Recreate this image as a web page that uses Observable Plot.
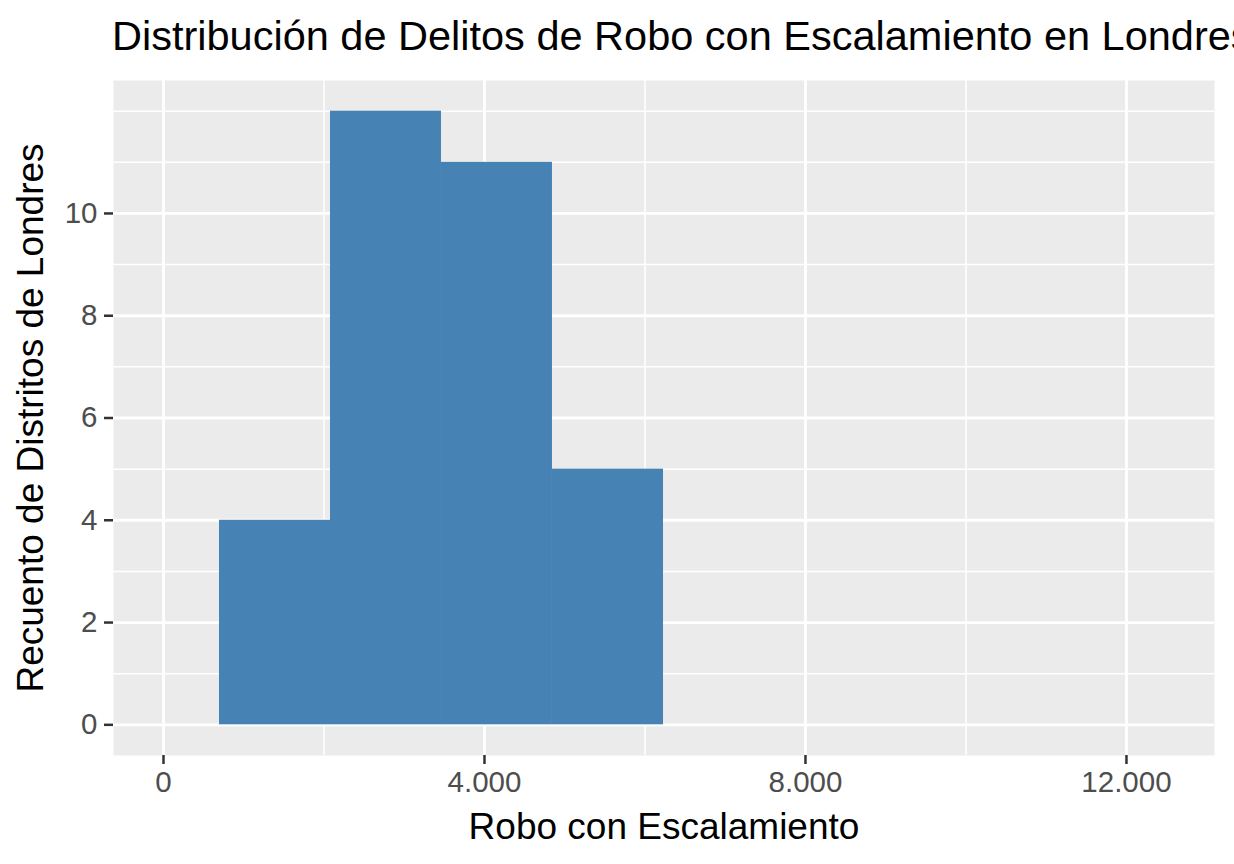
<!DOCTYPE html>
<html>
<head>
<meta charset="utf-8">
<script src="https://cdn.jsdelivr.net/npm/d3@7"></script>
<script src="https://cdn.jsdelivr.net/npm/@observablehq/plot@0.6"></script>
<style>
  html, body { margin: 0; padding: 0; background: #ffffff; }
  body { width: 1234px; height: 864px; overflow: hidden; font-family: "Liberation Sans", Arial, sans-serif; }
  #title { box-sizing: border-box; height: 72px; padding-top: 15px; padding-left: 112px; font-size: 41.5px; line-height: 41.5px; color: #000; white-space: nowrap; overflow: hidden; }
  #chart svg { display: block; }
</style>
</head>
<body>
<div id="title">Distribución de Delitos de Robo con Escalamiento en Londres</div>
<div id="chart"></div>
<script>
// ---- data ----
const binStart = [698, 2081, 3464, 4847];
const binEnd   = [2081, 3464, 4847, 6231];
const counts   = [4, 12, 11, 5];

const xTicks = [0, 4000, 8000, 12000];
const xMinor = [2000, 6000, 10000];
const yTicks = [0, 2, 4, 6, 8, 10];
const yMinor = [1, 3, 5, 7, 9, 11, 12];

const xLabel = "Robo con Escalamiento";
const yLabel = "Recuento de Distritos de Londres";

const bins = counts.map((c, i) => ({x1: binStart[i], x2: binEnd[i], count: c}));

const locale = d3.formatLocale({decimal: ",", thousands: ".", grouping: [3], currency: ["", "€"]});
const fmt = locale.format(",");

const chart = Plot.plot({
  width: 1234,
  height: 792,
  marginTop: 8,
  marginBottom: 109,
  marginLeft: 113,
  marginRight: 20,
  style: {fontFamily: "'Liberation Sans', Arial, sans-serif", background: "#ffffff"},
  x: {domain: [-623, 13097]},
  y: {domain: [-0.6, 12.6]},
  marks: [
    Plot.frame({fill: "#ebebeb"}),
    Plot.ruleX(xMinor, {stroke: "#ffffff", strokeWidth: 1.5}),
    Plot.ruleY(yMinor, {stroke: "#ffffff", strokeWidth: 1.5}),
    Plot.ruleX(xTicks, {stroke: "#ffffff", strokeWidth: 2.8}),
    Plot.ruleY(yTicks, {stroke: "#ffffff", strokeWidth: 2.8}),
    Plot.rectY(bins, {x1: "x1", x2: "x2", y: "count", fill: "#4682b4"}),
    Plot.axisX(xTicks, {tickFormat: fmt, fontSize: 29.5, tickSize: 9, tickPadding: 7, stroke: "#333333", strokeWidth: 2.5, fill: "#4d4d4d", label: null}),
    Plot.axisY(yTicks, {tickFormat: d => String(d), fontSize: 29.5, tickSize: 9, tickPadding: 7, stroke: "#333333", strokeWidth: 2.5, fill: "#4d4d4d", label: null}),
    Plot.text([xLabel], {text: d => d, frameAnchor: "bottom", dy: 83, textAnchor: "middle", lineAnchor: "bottom", fontSize: 37, fill: "#000000"}),
    Plot.text([yLabel], {text: d => d, frameAnchor: "left", rotate: -90, dx: -82, textAnchor: "middle", lineAnchor: "middle", fontSize: 37, fill: "#000000"})
  ]
});
document.getElementById("chart").appendChild(chart);
</script>
</body>
</html>
